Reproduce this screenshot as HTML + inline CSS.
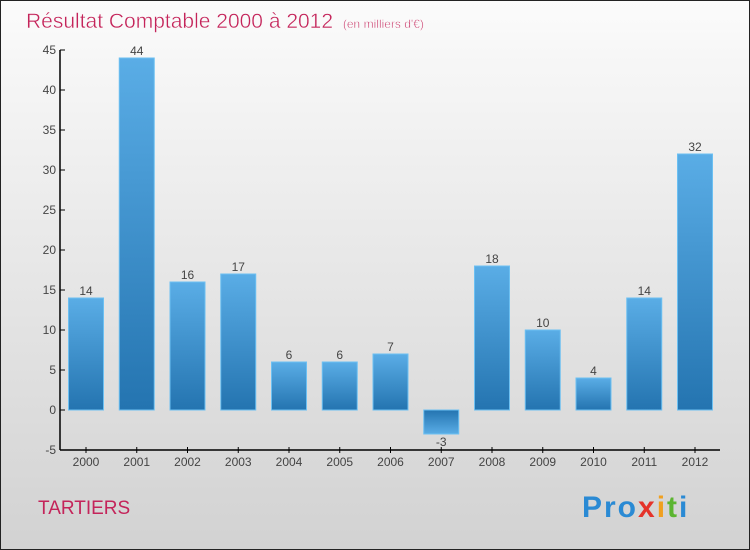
<!DOCTYPE html>
<html><head><meta charset="utf-8"><style>
body{margin:0;width:750px;height:550px;overflow:hidden}
svg{display:block;font-family:"Liberation Sans",sans-serif}
</style></head><body>
<svg width="750" height="550">
<defs>
<linearGradient id="bg" x1="0" y1="0" x2="0" y2="1"><stop offset="0" stop-color="#fbfbfb"/><stop offset="1" stop-color="#d2d2d2"/></linearGradient>
<linearGradient id="bar" x1="0" y1="0" x2="0" y2="1"><stop offset="0" stop-color="#5aade6"/><stop offset="1" stop-color="#2474b0"/></linearGradient>
<linearGradient id="barn" x1="0" y1="0" x2="0" y2="1"><stop offset="0" stop-color="#2474b0"/><stop offset="1" stop-color="#5aade6"/></linearGradient>
</defs>
<rect x="0.5" y="0.5" width="749" height="549" fill="url(#bg)" stroke="#222"/>
<text x="26" y="28" font-size="21" fill="#c4245a" stroke="#fbfbfb" stroke-width="0.4">Résultat Comptable 2000 à 2012 <tspan font-size="12" dx="4">(en milliers d'€)</tspan></text>
<g id="yaxis"></g>
<g id="bars"></g>
<g id="xaxis"></g>
<text x="38" y="514" font-size="19" fill="#c4245a">TARTIERS</text>
<text x="582" y="517" font-size="30" font-weight="bold" letter-spacing="2"><tspan fill="#2a8ad4">Pro</tspan><tspan fill="#e5332a">x</tspan><tspan fill="#f0a020">i</tspan><tspan fill="#5cb531">t</tspan><tspan fill="#2a8ad4">i</tspan></text>
</svg>
<script>
const categories=["2000","2001","2002","2003","2004","2005","2006","2007","2008","2009","2010","2011","2012"];
const values=[14,44,16,17,6,6,7,-3,18,10,4,14,32];
const yTicks=[-5,0,5,10,15,20,25,30,35,40,45];
const NS="http://www.w3.org/2000/svg";
function y(v){return 410-v*8;}
function x(i){return 86+i*50.75;}
function mk(tag,attrs,parent){const e=document.createElementNS(NS,tag);for(const k in attrs)e.setAttribute(k,attrs[k]);parent.appendChild(e);return e;}
const ya=document.getElementById('yaxis'),xa=document.getElementById('xaxis'),bg=document.getElementById('bars');
mk('line',{x1:60,y1:50,x2:60,y2:450,stroke:'#000','stroke-width':1.5},ya);
yTicks.forEach(t=>{
 const l=mk('line',{x1:60,y1:y(t),x2:65,y2:y(t),stroke:'#000'},ya);
 
 
 const tx=mk('text',{x:56,y:y(t)+4,'text-anchor':'end','font-size':12,fill:'#444'},ya);
 tx.textContent=t;
 
 
});
mk('line',{x1:60,y1:450,x2:720,y2:450,stroke:'#000','stroke-width':1.5},xa);
categories.forEach((c,i)=>{
 mk('line',{x1:x(i),y1:447,x2:x(i),y2:453,stroke:'#000'},xa);
 const tx=mk('text',{x:x(i),y:466,'text-anchor':'middle','font-size':12,fill:'#444'},xa);
 tx.textContent=c;
 
 
 const v=values[i];
 const top=Math.min(y(v),y(0)),h=Math.abs(y(v)-y(0));
 const r=mk('rect',{x:x(i)-17.5,y:top,width:35,height:h,fill:v<0?'url(#barn)':'url(#bar)',stroke:'#6cc0f2','stroke-width':1},bg);
 
 
 const lb=mk('text',{x:x(i),y:v<0?y(v)+12:y(v)-3,'text-anchor':'middle','font-size':12,fill:'#444'},bg);
 lb.textContent=v;
 
 
});
</script>
</body></html>
